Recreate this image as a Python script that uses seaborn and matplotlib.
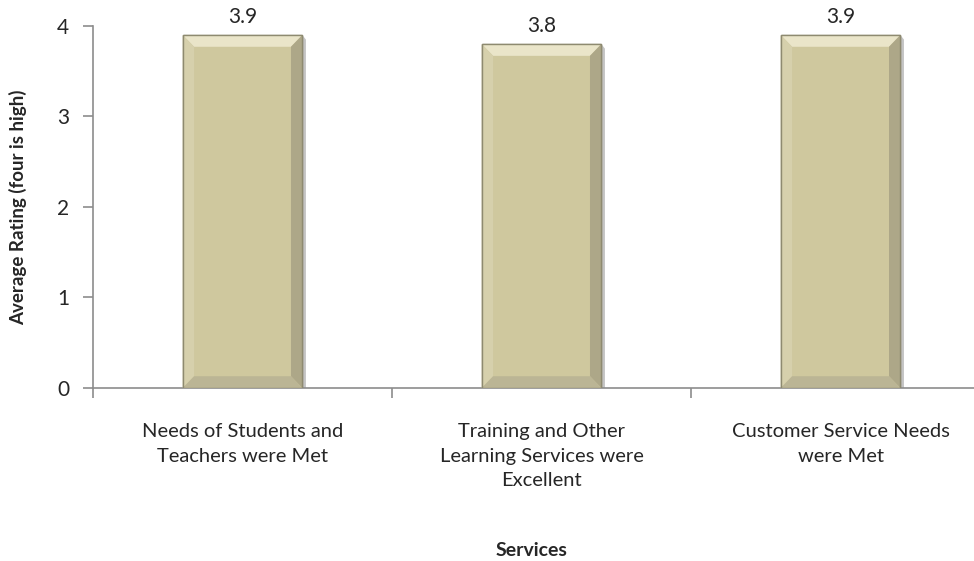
import matplotlib
matplotlib.use("Agg")
import matplotlib.pyplot as plt
from matplotlib.patches import Polygon
import seaborn as sns
import pandas as pd

categories = [
    "Needs of Students and\nTeachers were Met",
    "Training and Other\nLearning Services were\nExcellent",
    "Customer Service Needs\nwere Met",
]
ratings = [3.9, 3.8, 3.9]
y_ticks = [0, 1, 2, 3, 4]
x_title = "Services"
y_title = "Average Rating (four is high)"

sns.set_theme(style="white")
plt.rcParams["font.family"] = ["Lato", "DejaVu Sans"]

df = pd.DataFrame({"service": categories, "rating": ratings})

fig = plt.figure(figsize=(9.74, 5.61), dpi=100)
ax = fig.add_axes([0.0955, 0.3084, 0.921, 0.6453])

face = "#CFC89E"
sns.barplot(data=df, x="service", y="rating", color=face, width=0.4,
            saturation=1, ax=ax, zorder=3)

# bevelled look on each bar
bx, by = 0.038, 0.13
for p in ax.patches:
    x0, w, h = p.get_x(), p.get_width(), p.get_height()
    x1 = x0 + w
    p.set_edgecolor("#8E8A70")
    p.set_linewidth(1.0)
    # drop shadow
    ax.add_patch(Polygon([(x1, 0), (x1 + 0.012, 0), (x1 + 0.012, h - 0.05), (x1, h)],
                         closed=True, fc="#C4C4C4", ec="none", zorder=2))
    # top facet
    ax.add_patch(Polygon([(x0, h), (x1, h), (x1 - bx, h - by), (x0 + bx, h - by)],
                         closed=True, fc="#EAE5C9", ec="none", zorder=4))
    # left facet
    ax.add_patch(Polygon([(x0, h), (x0 + bx, h - by), (x0 + bx, by), (x0, 0)],
                         closed=True, fc="#D6D0AC", ec="none", zorder=4))
    # right facet
    ax.add_patch(Polygon([(x1, h), (x1, 0), (x1 - bx, by), (x1 - bx, h - by)],
                         closed=True, fc="#ADA788", ec="none", zorder=4))
    # bottom facet
    ax.add_patch(Polygon([(x0, 0), (x1, 0), (x1 - bx, by), (x0 + bx, by)],
                         closed=True, fc="#BBB595", ec="none", zorder=4))
    ax.add_patch(plt.Rectangle((x0, 0), w, h, fc="none", ec="#8E8A70", lw=1.0, zorder=5))
    ax.text(x0 + w / 2, h + 0.09, f"{h:.1f}", ha="center", va="bottom",
            fontsize=15, color="#262626", zorder=6)

ax.set_xlim(-0.5, 2.5)
ax.set_ylim(0, 4)
ax.set_yticks(y_ticks)
ax.set_yticklabels([str(t) for t in y_ticks])

# boundary ticks between categories; category names centred under each bar
ax.set_xticks([i - 0.5 for i in range(len(categories) + 1)])
ax.set_xticklabels([])
for i, name in enumerate(categories):
    ax.text(i, -0.096, name, transform=ax.get_xaxis_transform(), ha="center",
            va="top", fontsize=14.5, color="#262626", linespacing=1.56,
            clip_on=False)
ax.tick_params(axis="x", which="major", length=7, width=1.2, color="#8C8C8C",
               direction="out", bottom=True)
ax.tick_params(axis="y", length=7, width=1.2, color="#8C8C8C", direction="out",
               left=True, labelsize=15, labelcolor="#262626", pad=10)

for side in ["top", "right"]:
    ax.spines[side].set_visible(False)
for side in ["left", "bottom"]:
    ax.spines[side].set_color("#8C8C8C")
    ax.spines[side].set_linewidth(1.2)

ax.set_xlabel(x_title, fontsize=14, fontweight="bold", color="#262626")
ax.set_ylabel(y_title, fontsize=13.5, fontweight="bold", color="#262626")
ax.yaxis.set_label_coords(-0.073, 0.5)
ax.xaxis.set_label_coords(0.489, -0.425)

fig.savefig("out.png", dpi=100, facecolor="white")
